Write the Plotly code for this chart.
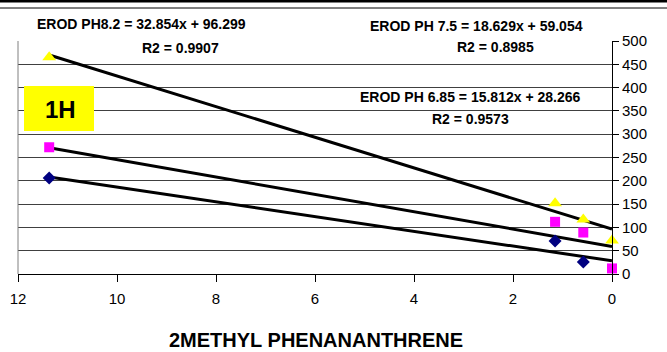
import plotly.graph_objects as go

# ---- data ----
x_vals = [11.37, 1.15, 0.58, 0.0]
ph82 = [465, 152, 117, 72]          # yellow triangles
ph75 = [272, 112, 89, 12]           # pink squares
x_685 = [11.37, 1.15, 0.58]
ph685 = [206, 71, 26]               # navy diamonds
fits = {"ph82": (32.854, 96.299), "ph75": (18.629, 59.054), "ph685": (15.812, 28.266)}
x_ticks = [12, 10, 8, 6, 4, 2, 0]
y_ticks = list(range(0, 501, 50))

W, H = 667, 352
L, R, T, B = 18, 612, 41, 274

def px(x):
    return (x - L) / (R - L)

def py(y):
    return (B - y) / (B - T)

fig = go.Figure()

xmin, xmax = 0.0, max(x_vals)
for key in ["ph82", "ph75", "ph685"]:
    m, c = fits[key]
    fig.add_trace(go.Scatter(x=[xmin, xmax], y=[m * xmin + c, m * xmax + c], mode="lines",
                             line=dict(color="black", width=3), showlegend=False,
                             hoverinfo="skip", cliponaxis=False))

fig.add_trace(go.Scatter(x=x_685, y=ph685, mode="markers", cliponaxis=False,
                         marker=dict(symbol="diamond", color="#000080", size=10), showlegend=False))
fig.add_trace(go.Scatter(x=x_vals, y=ph75, mode="markers", cliponaxis=False,
                         marker=dict(symbol="square", color="#FF00FF", size=10), showlegend=False))
fig.add_trace(go.Scatter(x=x_vals, y=ph82, mode="markers", cliponaxis=False,
                         marker=dict(symbol="triangle-up", color="#FFFF00", size=12), showlegend=False))

narrow = "Liberation Sans Narrow, Arial Narrow, Liberation Sans, Arial"
ann_font = dict(family=narrow, size=14, color="black")
labels = [
    ("<b>EROD PH8.2 = 32.854x + 96.299</b>", 141, 24),
    ("<b>R2 = 0.9907</b>", 180, 48),
    ("<b>EROD PH 7.5 = 18.629x + 59.054</b>", 476, 26),
    ("<b>R2 = 0.8985</b>", 495, 47),
    ("<b>EROD PH 6.85 = 15.812x + 28.266</b>", 470, 97),
    ("<b>R2 = 0.9573</b>", 470, 119),
]
annotations = [dict(text=t, x=px(x), y=py(y), xref="paper", yref="paper", showarrow=False,
                    xanchor="center", yanchor="middle", font=ann_font) for t, x, y in labels]
annotations.append(dict(text="<b>1H</b>", x=px(60), y=py(109), xref="paper", yref="paper",
                        showarrow=False, xanchor="center", yanchor="middle",
                        font=dict(family="Liberation Sans, Arial", size=24, color="black")))
annotations.append(dict(text="<b>2METHYL PHENANANTHRENE</b>", x=px(316), y=py(340), xref="paper",
                        yref="paper", showarrow=False, xanchor="center", yanchor="middle",
                        font=dict(family="Liberation Sans, Arial", size=20, color="black")))

shapes = [
    dict(type="rect", xref="paper", yref="paper", x0=px(24), x1=px(94), y0=py(131), y1=py(86),
         fillcolor="#FFFF00", line=dict(width=0), layer="above"),
    dict(type="line", xref="paper", yref="paper", x0=px(0), x1=px(W), y0=py(1.2), y1=py(1.2),
         line=dict(color="black", width=2.5)),
    dict(type="line", xref="paper", yref="paper", x0=px(0), x1=px(W), y0=py(8), y1=py(8),
         line=dict(color="black", width=1)),
    dict(type="line", xref="paper", yref="paper", x0=0, x1=0, y0=0, y1=1,
         line=dict(color="#808080", width=1)),
]

fig.update_layout(
    width=W, height=H,
    margin=dict(l=L, r=W - R, t=T, b=H - B, pad=0, autoexpand=False),
    paper_bgcolor="white", plot_bgcolor="white",
    font=dict(family="Liberation Sans, Arial", size=15, color="black"),
    annotations=annotations, shapes=shapes,
    xaxis=dict(range=[12, 0], tickvals=x_ticks, ticktext=[str(v) for v in x_ticks],
               showgrid=False, zeroline=False, showline=True, linecolor="black", linewidth=1,
               ticks="outside", ticklen=7, tickcolor="black", tickfont=dict(size=15),
               ticklabelstandoff=4, automargin=False),
    yaxis=dict(range=[0, 500], tickvals=y_ticks, side="right", showgrid=True,
               gridcolor="#404040", gridwidth=1, zeroline=False, showline=True,
               linecolor="black", linewidth=1, ticks="outside", ticklen=6, tickcolor="black",
               tickfont=dict(size=15), automargin=False),
)
fig.write_html("out.html", config={"displayModeBar": False},
               post_script="document.body.style.margin='0';document.body.style.overflow='hidden';")
